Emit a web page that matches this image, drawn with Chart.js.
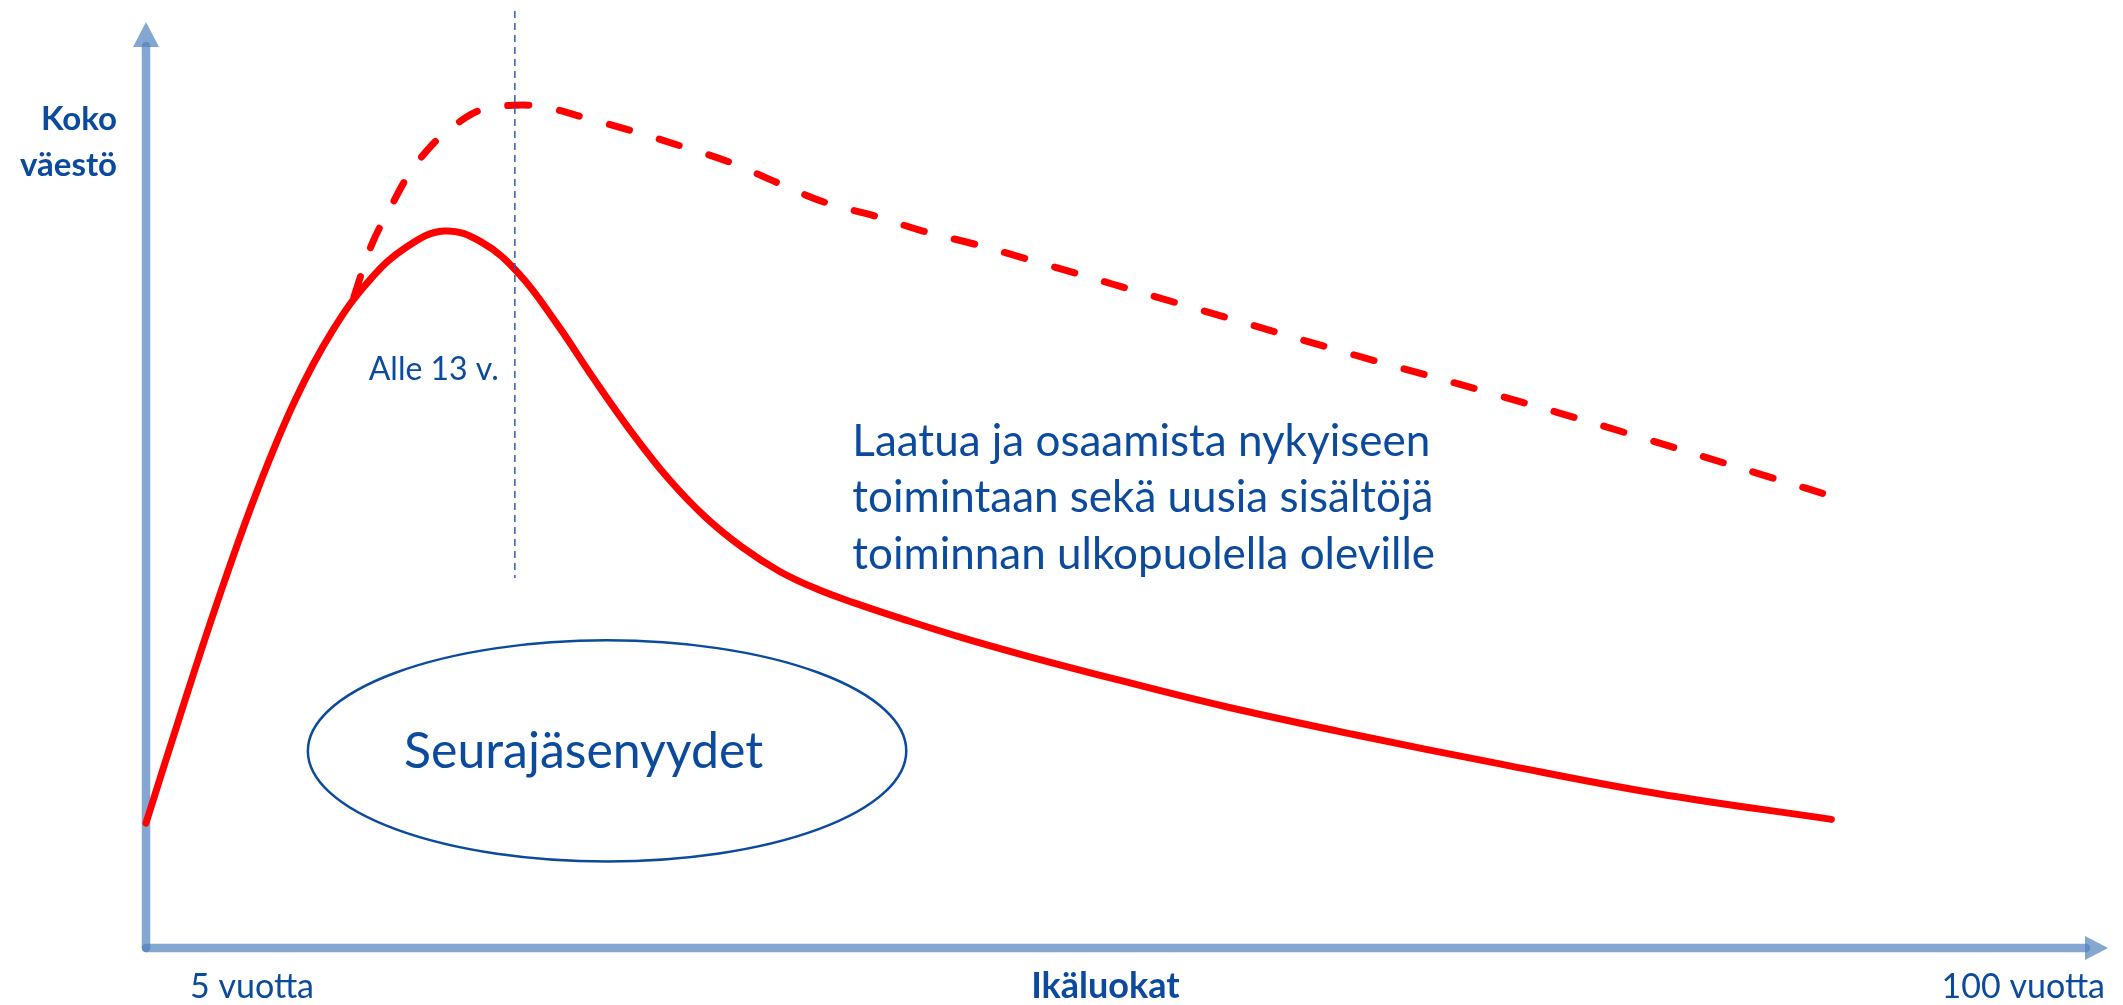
<!DOCTYPE html>
<html lang="fi">
<head>
<meta charset="utf-8">
<title>Ikäluokat</title>
<script src="https://cdn.jsdelivr.net/npm/chart.js@4.4.1/dist/chart.umd.min.js"></script>
<style>
    html, body { margin: 0; padding: 0; background: #fff; overflow: hidden; }
    #wrap { width: 2123px; height: 1005px; position: relative; }
</style>
</head>
<body>
<div id="wrap"><canvas id="chart"></canvas></div>
<script>
// Both axes are relative (0..100 of the axis length), the picture is schematic

// Seurajäsenyydet: the solid curve
const solidX = [0, 1.9, 3.8, 5.7, 7.6, 9.5, 11.4, 13.3, 15.2, 17.1, 19.0, 20.9, 22.8, 24.7, 26.6, 28.5,
    30.4, 32.3, 34.2, 36.1, 38.5, 41.5, 45.0, 49.5, 55.0, 61.5, 69.0, 77.0, 85.9];
const solidY = [13.4, 26.1, 38.3, 49.5, 59.1, 66.6, 72.1, 75.7, 77.4, 76.2, 72.8, 67.5, 61.5, 55.8, 50.7, 46.5,
    43.2, 40.6, 38.7, 37.2, 35.5, 33.5, 31.4, 28.9, 26.0, 23.0, 19.8, 16.6, 13.8];

// Koko väestö: the dashed curve
const dashedX = [10.6, 11.5, 12.6, 13.3, 14.0, 15.0, 15.9, 17.1, 18.8, 20.3, 22.3, 24.8, 27.4, 29.8, 32.2,
    34.6, 37.2, 39.6, 42.2, 44.7, 53.7, 61.6, 68.5, 75.4, 82.3, 86.9];
const dashedY = [70.3, 75.9, 80.5, 83.2, 85.3, 87.6, 89.1, 90.5, 91.0, 90.8, 89.7, 88.2, 86.5, 84.8, 82.6,
    80.5, 79.0, 77.4, 76.0, 74.5, 68.9, 64.0, 59.9, 55.6, 51.1, 48.1];

// "Alle 13 v." divider
const markerX = [18.8, 18.8];
const markerY = [101.2, 39.9];

// axis texts
const yAxisLabel = ['Koko', 'väestö'];
const xAxisTitle = 'Ikäluokat';
const xAxisEnds = ['5 vuotta', '100 vuotta'];
const markerLabel = 'Alle 13 v.';
const mainText = ['Laatua ja osaamista nykyiseen', 'toimintaan sekä uusia sisältöjä', 'toiminnan ulkopuolella oleville'];
const ellipseText = 'Seurajäsenyydet';

const TEXT_BLUE = '#0b4a9c';
const AXIS_BLUE = 'rgba(79, 129, 189, 0.7)';
const FONT = 'Lato, "Open Sans", sans-serif';

const toPoints = (xs, ys) => xs.map((x, i) => ({ x: x, y: ys[i] }));

// draws arrows, ellipse and all the text
const sketchPlugin = {
    id: 'sketch',
    beforeDatasetsDraw(chart) {
        const { ctx, chartArea: a } = chart;
        ctx.save();
        ctx.strokeStyle = AXIS_BLUE;
        ctx.fillStyle = AXIS_BLUE;
        ctx.lineWidth = 8.5;
        ctx.lineCap = 'round';

        // y axis with arrow head
        ctx.beginPath();
        ctx.moveTo(a.left, a.bottom + 1);
        ctx.lineTo(a.left, a.top + 24);
        ctx.stroke();
        ctx.beginPath();
        ctx.moveTo(a.left, a.top);
        ctx.lineTo(a.left - 13, a.top + 25);
        ctx.lineTo(a.left + 13, a.top + 25);
        ctx.closePath();
        ctx.fill();

        // x axis with arrow head
        ctx.beginPath();
        ctx.moveTo(a.left, a.bottom + 1);
        ctx.lineTo(a.right - 22, a.bottom + 1);
        ctx.stroke();
        ctx.beginPath();
        ctx.moveTo(a.right, a.bottom + 1);
        ctx.lineTo(a.right - 23, a.bottom - 11);
        ctx.lineTo(a.right - 23, a.bottom + 13);
        ctx.closePath();
        ctx.fill();
        ctx.restore();
    },
    afterDatasetsDraw(chart) {
        const { ctx, chartArea: a } = chart;
        const sx = chart.scales.x, sy = chart.scales.y;
        ctx.save();
        ctx.fillStyle = TEXT_BLUE;
        ctx.strokeStyle = TEXT_BLUE;
        ctx.textBaseline = 'alphabetic';

        // y axis label
        ctx.font = 'bold 33px ' + FONT;
        ctx.textAlign = 'right';
        ctx.fillText(yAxisLabel[0], a.left - 29, sy.getPixelForValue(88.3));
        ctx.fillText(yAxisLabel[1], a.left - 29, sy.getPixelForValue(83.4));

        // x axis texts
        const baseY = a.bottom + 51;
        ctx.font = '34px ' + FONT;
        ctx.textAlign = 'left';
        ctx.fillText(xAxisEnds[0], a.left + 44, baseY);
        ctx.textAlign = 'right';
        ctx.fillText(xAxisEnds[1], a.right - 3, baseY);
        ctx.font = 'bold 36px ' + FONT;
        ctx.textAlign = 'center';
        ctx.fillText(xAxisTitle, sx.getPixelForValue(48.9), baseY);

        // label next to the divider
        ctx.font = '32px ' + FONT;
        ctx.textAlign = 'right';
        ctx.fillText(markerLabel, sx.getPixelForValue(markerX[0]) - 16, sy.getPixelForValue(61.3));

        // the long text
        ctx.font = '44px ' + FONT;
        ctx.textAlign = 'left';
        mainText.forEach((line, i) => {
            ctx.fillText(line, sx.getPixelForValue(36.0), sy.getPixelForValue(53.1) + i * 56.5);
        });

        // ellipse with its text
        const cx = sx.getPixelForValue(23.5), cy = sy.getPixelForValue(21.2);
        const rx = sx.getPixelForValue(23.5 + 15.25) - cx;
        const ry = sy.getPixelForValue(21.2 - 11.95) - cy;
        ctx.lineWidth = 2.5;
        ctx.beginPath();
        ctx.ellipse(cx, cy, rx, ry, 0, 0, Math.PI * 2);
        ctx.stroke();
        ctx.font = '50px ' + FONT;
        ctx.textAlign = 'left';
        ctx.fillText(ellipseText, sx.getPixelForValue(13.15), sy.getPixelForValue(19.35));
        ctx.restore();
    }
};

new Chart(document.getElementById('chart'), {
    type: 'line',
    data: {
        datasets: [
            {
                label: 'Alle 13 v.',
                data: toPoints(markerX, markerY),
                borderColor: '#2e5faa',
                borderWidth: 1.5,
                borderDash: [7, 5],
                pointRadius: 0,
                clip: false,
                order: 0
            },
            {
                label: 'Seurajäsenyydet',
                data: toPoints(solidX, solidY),
                borderColor: '#ff0000',
                borderWidth: 7,
                borderCapStyle: 'round',
                borderJoinStyle: 'round',
                tension: 0.4,
                pointRadius: 0,
                clip: false,
                order: 1
            },
            {
                label: 'Koko väestö',
                data: toPoints(dashedX, dashedY),
                borderColor: '#ff0000',
                borderWidth: 7,
                borderDash: [21, 31],
                borderCapStyle: 'round',
                tension: 0.4,
                pointRadius: 0,
                clip: false,
                order: 2
            }
        ]
    },
    options: {
        responsive: true,
        maintainAspectRatio: false,
        animation: false,
        layout: { padding: { left: 146, right: 15, top: 22, bottom: 58 } },
        scales: {
            x: { type: 'linear', min: 0, max: 100, display: false },
            y: { type: 'linear', min: 0, max: 100, display: false }
        },
        plugins: {
            legend: { display: false },
            tooltip: { enabled: false }
        }
    },
    plugins: [sketchPlugin]
});
</script>
</body>
</html>
